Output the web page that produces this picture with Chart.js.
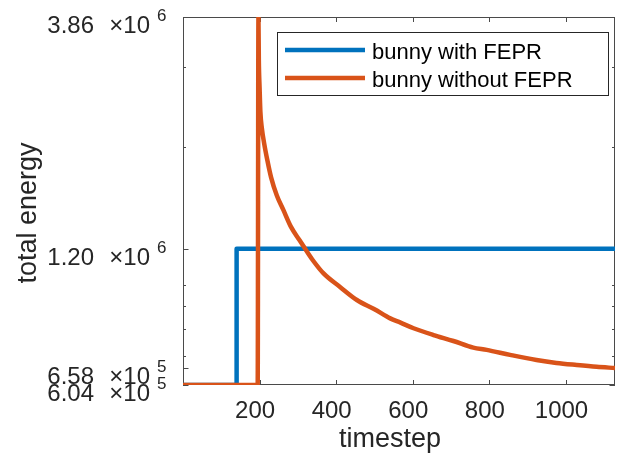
<!DOCTYPE html>
<html>
<head>
<meta charset="utf-8">
<script src="https://cdn.jsdelivr.net/npm/chart.js@4.4.1/dist/chart.umd.min.js"></script>
<style>
  html, body { margin: 0; padding: 0; background: #fff; }
  canvas { display: block; }
</style>
</head>
<body>
<canvas id="myChart" width="621" height="459"></canvas>
<script>
'use strict';
//////////////// data

let seriesNames = ['bunny with FEPR', 'bunny without FEPR'];
let seriesColors = ['#0072BD', '#D95319'];

let withStep = [0, 139, 140, 1128];
let withEnergy = [604000, 604000, 1200000, 1200000];

let withoutStep = [0, 195, 197, 198, 200, 202, 206, 212, 220, 230, 245, 262, 282, 304, 319, 340, 367, 410, 454, 500, 541, 568, 602, 654, 706, 758, 793, 854, 923, 975, 1028, 1080, 1128];
let withoutEnergy = [604000, 604000, 3860000, 3110000, 2700000, 2400000, 2200000, 2040000, 1880000, 1720000, 1570000, 1460000, 1340000, 1254000, 1200000, 1130000, 1060000, 990000, 927000, 885000, 845000, 827000, 804000, 777000, 754000, 729000, 721000, 703000, 685000, 675000, 668000, 662000, 658000];

let xTicks = [200, 400, 600, 800, 1000];
let yTicks = [604000, 658000, 1200000, 3860000];
let yTickText = ['6.04', '6.58', '1.20', '3.86'];
let yTickPower = ['5', '5', '6', '6'];
let yMinorTicks = [700000, 800000, 900000, 1000000, 2000000, 3000000];

let xMin = 0;
let xMax = 1128;
let yMin = 604000;
let yMax = 3860000;

let xTitle = 'timestep';
let yTitle = 'total energy';

//////////////// style

let fam = '"Liberation Sans", Arial, Helvetica, sans-serif';
let tickColor = '#262626';
let axisColor = '#4a4a4a';

function toPoints (xs, ys) {
  return xs.map((x, i) => ({ x: x, y: ys[i] }));
}

function line (ctx, x1, y1, x2, y2) {
  ctx.beginPath();
  ctx.moveTo(x1, y1);
  ctx.lineTo(x2, y2);
  ctx.stroke();
}

//////////////// axes box, inner ticks, titles, legend
let matlabLook = {
  id: 'matlabLook',
  beforeDatasetsDraw (chart) {
    let ctx = chart.ctx;
    let a = chart.chartArea;
    let xs = chart.scales.x;
    let ys = chart.scales.y;
    ctx.save();
    ctx.strokeStyle = axisColor;
    ctx.lineWidth = 1;
    ctx.strokeRect(a.left + 0.5, a.top + 0.5, a.right - a.left - 1, a.bottom - a.top - 1);

    xTicks.forEach(v => {
      let px = Math.round(xs.getPixelForValue(v)) + 0.5;
      line(ctx, px, a.bottom, px, a.bottom - 5);
      line(ctx, px, a.top, px, a.top + 5);
    });
    yTicks.forEach(v => {
      let py = Math.round(ys.getPixelForValue(v)) + 0.5;
      line(ctx, a.left, py, a.left + 5.5, py);
      line(ctx, a.right, py, a.right - 5.5, py);
    });
    yMinorTicks.forEach(v => {
      let py = Math.round(ys.getPixelForValue(v)) + 0.5;
      line(ctx, a.left, py, a.left + 3, py);
      line(ctx, a.right, py, a.right - 3, py);
    });
    ctx.restore();
  },
  afterDatasetsDraw (chart) {
    let ctx = chart.ctx;
    let a = chart.chartArea;
    let ys = chart.scales.y;
    ctx.save();

    // y tick labels with raised power of ten
    ctx.fillStyle = tickColor;
    ctx.textBaseline = 'alphabetic';
    yTicks.forEach((v, i) => {
      let py = ys.getPixelForValue(v);
      ctx.font = '24px ' + fam;
      ctx.textAlign = 'right';
      ctx.fillText(yTickText[i], a.left - 89, py + 16);
      ctx.fillText('\u00d710', a.left - 33, py + 16);
      ctx.font = '17px ' + fam;
      ctx.textAlign = 'left';
      ctx.fillText(yTickPower[i], a.left - 26, py + 4);
    });

    // axis titles
    ctx.font = '27px ' + fam;
    ctx.textAlign = 'center';
    ctx.textBaseline = 'alphabetic';
    ctx.fillText(xTitle, 390, 447);
    ctx.save();
    ctx.translate(36, 213);
    ctx.rotate(-Math.PI / 2);
    ctx.fillText(yTitle, 0, 0);
    ctx.restore();

    // legend
    let bx = 277, by = 32, bw = 332, bh = 64;
    ctx.fillStyle = '#fff';
    ctx.fillRect(bx, by, bw, bh);
    ctx.strokeStyle = '#262626';
    ctx.lineWidth = 1;
    ctx.strokeRect(bx + 0.5, by + 0.5, bw - 1, bh - 1);
    let rows = [50, 78];
    chart.data.datasets.forEach((ds, i) => {
      ctx.strokeStyle = ds.borderColor;
      ctx.lineWidth = 4.5;
      line(ctx, 285, rows[i], 365, rows[i]);
      ctx.fillStyle = '#000';
      ctx.font = '22px ' + fam;
      ctx.textAlign = 'left';
      ctx.fillText(ds.label, 372, rows[i] + 8.5);
    });
    ctx.restore();
  }
};

let ctx = document.getElementById('myChart').getContext('2d');
let myChart = new Chart(ctx, {
  type: 'line',
  data: {
    datasets: [
      {
        label: seriesNames[0],
        data: toPoints(withStep, withEnergy),
        borderColor: seriesColors[0],
        order: 2
      },
      {
        label: seriesNames[1],
        data: toPoints(withoutStep, withoutEnergy),
        borderColor: seriesColors[1],
        cubicInterpolationMode: 'monotone',
        order: 1
      }
    ]
  },
  options: {
    responsive: false,
    animation: false,
    layout: { padding: { top: 17, right: 6, left: 0, bottom: 0 } },
    elements: {
      point: { radius: 0 },
      line: { tension: 0, borderWidth: 4.5, borderJoinStyle: 'round', fill: false }
    },
    plugins: {
      legend: { display: false },
      tooltip: { enabled: false }
    },
    scales: {
      x: {
        type: 'linear',
        min: xMin,
        max: xMax,
        grid: { display: false, drawTicks: false },
        border: { display: false },
        afterBuildTicks: (s) => { s.ticks = xTicks.map(v => ({ value: v })); },
        afterFit: (s) => { s.height = 74; },
        ticks: {
          color: tickColor,
          font: { family: fam, size: 24 },
          padding: 12,
          labelOffset: -4.5,
          maxRotation: 0,
          autoSkip: false,
          callback: (v) => String(v)
        }
      },
      y: {
        type: 'logarithmic',
        min: yMin,
        max: yMax,
        grid: { display: false, drawTicks: false },
        border: { display: false },
        afterBuildTicks: (s) => { s.ticks = yTicks.map(v => ({ value: v })); },
        afterFit: (s) => { s.width = 183; },
        ticks: { display: false }
      }
    }
  },
  plugins: [matlabLook]
});
</script>
</body>
</html>
